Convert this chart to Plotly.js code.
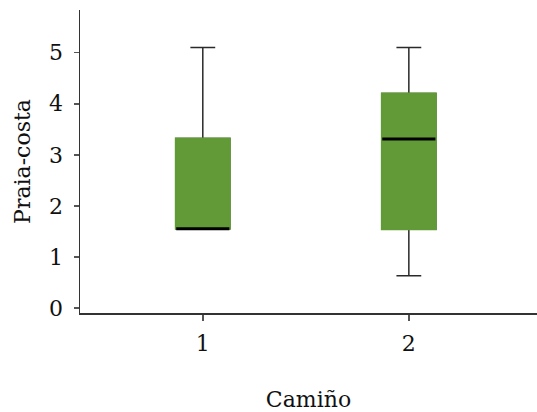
<!DOCTYPE html>
<html>
<head>
<meta charset="utf-8">
<script src="https://cdn.plot.ly/plotly-3.0.1.min.js"></script>
<style>html,body{margin:0;padding:0;background:#fff;}#chart{width:537px;height:412px;}</style>
</head>
<body>
<div id="chart"></div>
<script>
// Data
const categories = ["1", "2"];
const lowerWhisker = [1.55, 0.63];
const q1Values = [1.55, 1.54];
const medianValues = [1.55, 3.31];
const q3Values = [3.32, 4.2];
const upperWhisker = [5.1, 5.1];
const yTicks = [0, 1, 2, 3, 4, 5];

const green = "#619a36";
const font = "DejaVu Serif, Liberation Serif, serif";

const whiskers = {
  type: "box", x: categories,
  q1: q1Values, median: medianValues, q3: q3Values,
  lowerfence: lowerWhisker, upperfence: upperWhisker,
  fillcolor: green, line: {color: "#2a2a2a", width: 1.5},
  whiskerwidth: 0.46, width: 0.262, boxpoints: false, hoverinfo: "skip", showlegend: false
};
const body = {
  type: "box", x: categories,
  q1: q1Values, median: medianValues, q3: q3Values,
  lowerfence: q1Values, upperfence: q3Values,
  fillcolor: green, line: {color: green, width: 2},
  whiskerwidth: 0, width: 0.262, boxpoints: false, showlegend: false
};
const medians = {
  type: "box", x: categories,
  q1: medianValues, median: medianValues, q3: medianValues,
  lowerfence: medianValues, upperfence: medianValues,
  fillcolor: "rgba(0,0,0,0)", line: {color: "#000000", width: 3},
  whiskerwidth: 0, width: 0.258, boxpoints: false, hoverinfo: "skip", showlegend: false
};

const layout = {
  width: 537, height: 412,
  margin: {l: 80, r: 0, t: 10, b: 99},
  paper_bgcolor: "#ffffff", plot_bgcolor: "#ffffff",
  boxmode: "overlay",
  font: {family: font, size: 22, color: "#111111"},
  showlegend: false,
  xaxis: {
    type: "category", range: [-0.596, 1.622],
    showline: true, linecolor: "#333333", linewidth: 1.5,
    ticks: "outside", ticklen: 6, tickcolor: "#555555", tickwidth: 1.5,
    showgrid: false, zeroline: false,
    tickfont: {family: font, size: 22, color: "#111111"},
    ticklabelstandoff: 4,
    title: {text: "Camiño", font: {family: font, size: 22, color: "#111111"}, standoff: 39},
    automargin: false
  },
  yaxis: {
    range: [-0.098, 5.836], tickvals: yTicks,
    showline: true, linecolor: "#333333", linewidth: 1.5,
    ticks: "outside", ticklen: 5, tickcolor: "#555555", tickwidth: 1.5,
    showgrid: false, zeroline: false,
    tickfont: {family: font, size: 22, color: "#111111"},
    ticklabelstandoff: 6,
    title: {text: "Praia-costa", font: {family: font, size: 22, color: "#111111"}, standoff: 12},
    automargin: false
  }
};

Plotly.newPlot("chart", [whiskers, body, medians], layout, {staticPlot: true, displayModeBar: false});
</script>
</body>
</html>
